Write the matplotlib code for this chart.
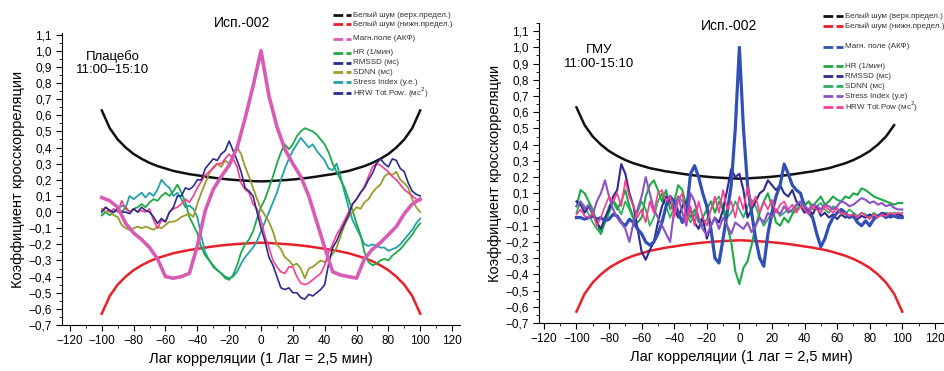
import matplotlib.pyplot as plt
import numpy as np
from matplotlib.lines import Line2D
from matplotlib.ticker import MultipleLocator, FuncFormatter

plt.rcParams['font.family'] = ['Liberation Sans', 'DejaVu Sans']

# лаги
lags5 = np.arange(-100, 101, 5)
lags = np.arange(-100, 100.1, 2.5)

# границы белого шума
noise_hi = [0.63, 0.52, 0.45, 0.40, 0.36, 0.33, 0.305, 0.285, 0.27, 0.255, 0.245,
            0.235, 0.228, 0.22, 0.213, 0.207, 0.202, 0.198, 0.195, 0.192, 0.19,
            0.192, 0.195, 0.198, 0.202, 0.207, 0.213, 0.22, 0.228, 0.235, 0.245,
            0.255, 0.27, 0.285, 0.305, 0.33, 0.36, 0.40, 0.45, 0.52, 0.63]
noise_lo = [-v for v in noise_hi]

# ---- Плацебо ----
magn_L = [0.09, 0.07, 0.03, -0.07, -0.13, -0.17, -0.22, -0.29, -0.40, -0.41, -0.40,
          -0.38, -0.21, 0.01, 0.14, 0.22, 0.29, 0.40, 0.58, 0.78, 1.0, 0.72, 0.53,
          0.39, 0.30, 0.22, 0.10, -0.06, -0.22, -0.37, -0.39, -0.40, -0.41, -0.29,
          -0.23, -0.19, -0.14, -0.09, -0.01, 0.05, 0.08]
hr_L = [-0.02, 0.0, -0.02, 0.0, 0.02, 0.0, 0.03, 0.0, 0.02, 0.03, 0.05, 0.03, 0.06,
        0.08, 0.07, 0.10, 0.12, 0.10, 0.13, 0.17, 0.12, 0.06, -0.03, -0.08, -0.13,
        -0.22, -0.27, -0.30, -0.34, -0.36, -0.38, -0.41, -0.42, -0.39, -0.33, -0.25,
        -0.20, -0.17, -0.12, -0.04, 0.03, 0.08, 0.15, 0.22, 0.30, 0.37, 0.42, 0.39,
        0.42, 0.47, 0.50, 0.52, 0.51, 0.50, 0.48, 0.45, 0.42, 0.37, 0.30, 0.25, 0.20,
        0.15, 0.08, 0.01, -0.07, -0.14, -0.25, -0.31, -0.33, -0.32, -0.30, -0.29,
        -0.30, -0.27, -0.25, -0.23, -0.20, -0.17, -0.14, -0.10, -0.07]
stress_L = [-0.02, 0.0, 0.01, 0.0, 0.02, 0.04, 0.03, 0.10, 0.08, 0.10, 0.12, 0.09,
            0.12, 0.10, 0.14, 0.20, 0.17, 0.15, 0.10, 0.12, 0.08, 0.03, 0.04, 0.02,
            -0.03, -0.15, -0.25, -0.30, -0.33, -0.36, -0.38, -0.40, -0.41, -0.40,
            -0.37, -0.32, -0.28, -0.25, -0.22, -0.18, -0.12, -0.06, 0.0, 0.06, 0.12,
            0.20, 0.27, 0.33, 0.38, 0.42, 0.46, 0.43, 0.40, 0.42, 0.38, 0.35, 0.32,
            0.27, 0.26, 0.30, 0.22, 0.12, 0.03, -0.05, -0.10, -0.15, -0.20, -0.21,
            -0.20, -0.21, -0.22, -0.22, -0.24, -0.23, -0.22, -0.20, -0.17, -0.14,
            -0.11, -0.07, -0.04]
rmssd_L = [0.0, 0.03, 0.01, 0.0, 0.02, 0.0, 0.0, -0.01, 0.02, 0.0, 0.03, 0.01, 0.0,
           -0.03, -0.07, -0.04, -0.06, 0.0, 0.03, 0.10, 0.10, 0.15, 0.14, 0.16, 0.20,
           0.20, 0.27, 0.30, 0.33, 0.32, 0.36, 0.38, 0.44, 0.38, 0.32, 0.25, 0.15,
           0.13, 0.10, 0.0, -0.10, -0.18, -0.28, -0.33, -0.40, -0.47, -0.48, -0.47,
           -0.50, -0.50, -0.53, -0.54, -0.51, -0.52, -0.50, -0.48, -0.45, -0.32,
           -0.22, -0.18, -0.12, -0.07, -0.02, 0.05, 0.08, 0.12, 0.15, 0.20, 0.24,
           0.30, 0.33, 0.30, 0.28, 0.33, 0.32, 0.27, 0.25, 0.18, 0.13, 0.11, 0.10]
hrw_L = [0.01, 0.03, 0.0, 0.02, 0.0, 0.07, 0.02, 0.0, 0.02, 0.0, 0.01, 0.0, 0.02,
         -0.05, -0.10, -0.05, -0.06, 0.0, 0.02, 0.03, 0.05, 0.08, 0.06, 0.10, 0.15,
         0.19, 0.23, 0.25, 0.27, 0.30, 0.30, 0.33, 0.36, 0.33, 0.28, 0.18, 0.14, 0.12,
         0.05, 0.02, -0.05, -0.15, -0.22, -0.30, -0.34, -0.37, -0.38, -0.34, -0.34,
         -0.40, -0.44, -0.45, -0.44, -0.42, -0.40, -0.38, -0.33, -0.25, -0.20, -0.14,
         -0.10, -0.05, 0.0, 0.05, 0.08, 0.12, 0.16, 0.22, 0.28, 0.30, 0.29, 0.27,
         0.25, 0.22, 0.20, 0.17, 0.14, 0.12, 0.10, 0.08, 0.07]
sdnn_L = [0.02, 0.0, 0.01, -0.02, -0.03, -0.08, -0.10, -0.11, -0.10, -0.09, -0.10,
          -0.09, -0.10, -0.11, -0.09, -0.10, -0.08, -0.06, -0.06, -0.05, -0.03, -0.02,
          -0.01, -0.03, 0.05, 0.12, 0.18, 0.24, 0.28, 0.30, 0.28, 0.32, 0.30, 0.35,
          0.40, 0.36, 0.28, 0.22, 0.15, 0.08, 0.02, -0.02, -0.06, -0.12, -0.20, -0.23,
          -0.28, -0.30, -0.33, -0.32, -0.35, -0.41, -0.35, -0.34, -0.32, -0.30, -0.31,
          -0.29, -0.26, -0.22, -0.15, -0.08, -0.03, 0.0, 0.03, 0.02, 0.06, 0.08, 0.12,
          0.15, 0.17, 0.22, 0.24, 0.23, 0.25, 0.20, 0.18, 0.15, 0.08, 0.03, 0.0]

# ---- ГМУ ----
magn_R = [-0.05, -0.05, -0.06, -0.05, -0.04, -0.06, -0.05, -0.07, -0.06, -0.03,
          -0.04, -0.08, -0.10, -0.06, -0.08, -0.12, -0.15, -0.20, -0.22, -0.20,
          -0.15, -0.08, 0.02, 0.08, 0.05, -0.02, -0.08, -0.02, 0.22, 0.27, 0.20,
          0.10, 0.02, -0.12, -0.30, -0.33, -0.18, -0.02, 0.15, 0.50, 1.0, 0.50, 0.15,
          -0.02, -0.18, -0.30, -0.35, -0.15, -0.02, 0.08, 0.15, 0.28, 0.22, 0.15,
          0.12, 0.10, 0.02, -0.02, -0.05, -0.15, -0.23, -0.18, -0.10, -0.05, -0.02,
          0.0, -0.02, -0.05, -0.04, -0.08, -0.10, -0.07, -0.10, -0.06, -0.04, -0.03,
          -0.05, -0.03, -0.04, -0.05, -0.05]
hr_R = [0.02, 0.12, 0.10, 0.05, 0.0, -0.08, -0.15, -0.08, -0.02, 0.05, 0.0, 0.05,
        0.12, 0.02, -0.05, -0.08, -0.05, 0.08, 0.15, 0.18, 0.12, 0.05, 0.12, 0.0,
        0.05, 0.15, 0.12, 0.02, -0.05, 0.0, -0.08, -0.05, 0.0, 0.05, -0.02, 0.05,
        0.0, -0.10, -0.20, -0.38, -0.46, -0.36, -0.32, -0.22, -0.10, -0.02, 0.05,
        0.10, 0.02, -0.08, -0.10, -0.05, -0.08, -0.03, 0.0, 0.02, 0.03, 0.05, 0.02,
        0.05, 0.08, 0.03, 0.05, 0.08, 0.06, 0.05, 0.08, 0.07, 0.10, 0.09, 0.13, 0.12,
        0.10, 0.08, 0.07, 0.06, 0.05, 0.04, 0.03, 0.04, 0.04]
rmssd_R = [0.05, 0.03, -0.02, 0.02, -0.03, -0.08, -0.12, -0.05, 0.0, 0.08, 0.12,
           0.28, 0.22, 0.10, 0.02, -0.12, -0.26, -0.31, -0.25, -0.20, -0.08, 0.02,
           0.08, 0.05, 0.0, -0.05, 0.02, 0.05, 0.0, -0.08, -0.12, -0.05, -0.18, -0.10,
           -0.05, -0.08, 0.0, 0.12, 0.25, 0.20, 0.22, 0.12, -0.05, 0.0, 0.05, 0.10,
           0.12, 0.18, 0.15, 0.12, 0.15, 0.10, 0.08, 0.12, 0.05, 0.02, -0.02, 0.0,
           -0.03, 0.02, -0.04, -0.02, -0.05, -0.03, -0.06, -0.03, -0.05, -0.04, -0.03,
           -0.06, -0.04, -0.05, -0.03, -0.05, -0.04, -0.02, -0.03, -0.05, -0.04, -0.03,
           -0.04]
sdnn_R = [-0.02, 0.05, 0.02, -0.03, -0.08, -0.12, -0.15, -0.06, 0.02, 0.06, 0.02,
          -0.03, 0.05, 0.0, -0.06, -0.02, 0.05, 0.0, -0.10, -0.05, 0.05, 0.10, 0.02,
          -0.05, 0.02, 0.08, 0.05, -0.03, -0.08, -0.03, -0.06, -0.10, -0.06, 0.0, 0.05,
          0.08, 0.02, -0.05, -0.02, 0.05, 0.0, -0.05, 0.02, 0.06, 0.02, -0.05, -0.10,
          -0.06, -0.02, 0.0, -0.04, -0.02, 0.0, -0.02, 0.02, 0.04, 0.02, 0.05, 0.0,
          0.02, 0.04, 0.0, -0.02, 0.02, 0.0, -0.02, -0.03, 0.0, -0.02, -0.04, -0.02,
          -0.03, -0.05, -0.02, -0.04, -0.03, -0.02, -0.03, -0.02, -0.03, -0.02]
stress_R = [0.02, 0.05, 0.0, 0.03, -0.03, 0.05, 0.10, 0.18, 0.08, 0.0, -0.05, -0.08,
            -0.12, -0.20, -0.08, 0.0, 0.08, 0.20, 0.10, 0.0, -0.05, -0.10, -0.15,
            -0.20, 0.0, 0.08, -0.02, -0.10, 0.10, 0.05, -0.05, -0.12, -0.16, -0.10,
            -0.05, -0.12, -0.05, -0.10, -0.15, -0.08, -0.10, -0.12, -0.08, -0.14, -0.10,
            -0.05, -0.08, -0.02, -0.05, 0.0, -0.03, 0.02, -0.02, 0.0, 0.03, 0.05, 0.02,
            0.0, 0.03, 0.02, 0.0, 0.03, 0.02, 0.0, 0.02, 0.05, 0.04, 0.02, 0.03, 0.05,
            0.07, 0.06, 0.04, 0.05, 0.03, 0.04, 0.02, 0.03, 0.01, 0.0, 0.0]
hrw_R = [-0.03, 0.0, -0.04, -0.05, -0.02, -0.10, -0.05, 0.02, 0.08, 0.05, 0.10, 0.02,
         0.18, 0.08, 0.02, -0.05, 0.0, -0.08, 0.05, -0.02, 0.10, 0.12, 0.05, 0.08,
         -0.05, 0.06, 0.10, -0.08, 0.02, -0.10, 0.05, -0.05, -0.10, 0.0, 0.08, -0.02,
         0.12, 0.0, 0.05, -0.05, 0.08, 0.0, 0.14, 0.02, 0.08, -0.02, 0.05, 0.0, 0.06,
         -0.02, 0.03, 0.05, 0.0, 0.03, -0.02, 0.02, 0.0, -0.03, 0.02, 0.0, -0.02,
         0.02, 0.0, -0.02, 0.01, -0.03, -0.02, -0.04, -0.03, -0.05, -0.02, -0.04,
         -0.06, -0.03, -0.05, -0.03, -0.04, -0.02, -0.03, -0.02, -0.03]

W, H = 945, 371
fig = plt.figure(figsize=(W / 100, H / 100), dpi=100)


def px(x, y):
    return x / W, 1 - y / H


def style_axes(ax, xlim, ylim):
    ax.set_xlim(*xlim)
    ax.set_ylim(*ylim)
    ax.spines['top'].set_visible(False)
    ax.spines['right'].set_visible(False)
    ax.xaxis.set_major_locator(MultipleLocator(20))
    ax.xaxis.set_minor_locator(MultipleLocator(10))
    ax.yaxis.set_major_locator(MultipleLocator(0.1))
    ax.yaxis.set_minor_locator(MultipleLocator(0.05))
    ax.yaxis.set_major_formatter(FuncFormatter(lambda v, p: f'{v:.1f}'.replace('.', ',').replace('-', '\u2212')))
    ax.xaxis.set_major_formatter(FuncFormatter(lambda v, p: f'{v:.0f}'.replace('-', '\u2212')))
    ax.tick_params(which='major', direction='out', length=4, width=0.8, labelsize=8.5)
    ax.tick_params(which='minor', direction='out', length=2, width=0.6)
    ax.set_ylabel('Коэффициент кросскорреляции', fontsize=10.5, labelpad=2)


def legend(x0, x1, xt, rows):
    for y, color, label in rows:
        fig.add_artist(Line2D([x0 / W, x1 / W], [1 - y / H, 1 - y / H], color=color,
                              lw=2, ls=(0, (3.5, 1.2))))
        fig.text(xt / W, 1 - y / H, label, fontsize=5.8, va='center', ha='left', color='#333333')


c_black, c_red = '#111111', '#e8202a'
c_mag, c_green, c_teal = '#d65cb6', '#1fa848', '#22a0a8'
c_navy, c_olive, c_pink = '#2b2b8c', '#9a9a2e', '#ff3d8f'
c_blue, c_purple, c_green2 = '#3050b4', '#8c52c4', '#2fb060'

# ---- левая панель ----
axL = fig.add_axes([62 / W, 1 - 325 / H, 398 / W, 292 / H])
style_axes(axL, (-125, 125), (-0.7, 1.11))
axL.plot(lags5, noise_hi, color=c_black, lw=1.8)
axL.plot(lags5, noise_lo, color=c_red, lw=1.8)
axL.plot(lags, stress_L, color=c_teal, lw=1.3)
axL.plot(lags, hr_L, color=c_green, lw=1.3)
axL.plot(lags, sdnn_L, color=c_olive, lw=1.3)
axL.plot(lags, hrw_L, color=c_pink, lw=1.2)
axL.plot(lags, rmssd_L, color=c_navy, lw=1.2)
axL.plot(lags5, magn_L, color=c_mag, lw=2.6)
axL.set_xlabel('Лаг корреляции (1 Лаг = 2,5 мин)', fontsize=10.5, labelpad=3)
fig.text(*px(242, 23), 'Исп.-002', fontsize=10, ha='center', va='center')
fig.text(*px(113, 63), 'Плацебо\n11:00–15:10', fontsize=9.5, ha='center', va='center',
         linespacing=1.2)
legend(333, 351, 353, [
    (15, c_black, 'Белый шум (верх.предел.)'),
    (24, c_red, 'Белый шум (нижн.предел.)'),
    (39, c_mag, 'Магн.поле (АКФ)'),
    (53, c_green, 'HR (1/мин)'),
    (63, c_navy, 'RMSSD (мс)'),
    (72, c_olive, 'SDNN (мс)'),
    (82, c_teal, 'Stress Index (у.е.)'),
    (93, c_navy, 'HRW Tot.Pow. (мс$^2$)'),
])

# ---- правая панель ----
axR = fig.add_axes([539 / W, 1 - 323 / H, 404 / W, 300 / H])
style_axes(axR, (-123, 125), (-0.7, 1.15))
axR.plot(lags5[:-1], noise_hi[:-1], color=c_black, lw=1.8)
axR.plot(lags5, noise_lo, color=c_red, lw=1.8)
axR.plot(lags, sdnn_R, color=c_green2, lw=1.3)
axR.plot(lags, hr_R, color=c_green, lw=1.5)
axR.plot(lags, rmssd_R, color=c_navy, lw=1.5)
axR.plot(lags, magn_R, color=c_blue, lw=2.3)
axR.plot(lags, stress_R, color=c_purple, lw=1.5)
axR.plot(lags, hrw_R, color=c_pink, lw=1.2)
axR.set_xlabel('Лаг корреляции (1 лаг = 2,5 мин)', fontsize=10.5, labelpad=3)
fig.text(*px(729, 26), 'Исп.-002', fontsize=10, ha='center', va='center')
fig.text(*px(599, 57), 'ГМУ\n11:00-15:10', fontsize=9.5, ha='center', va='center',
         linespacing=1.2)
legend(823, 843, 845, [
    (16, c_black, 'Белый шум (верх.предел.)'),
    (26, c_red, 'Белый шум (нижн.предел.)'),
    (47, c_blue, 'Магн. поле (АКФ)'),
    (66, c_green, 'HR (1/мин)'),
    (76, c_navy, 'RMSSD (мс)'),
    (86, c_green2, 'SDNN (мс)'),
    (96, c_purple, 'Stress Index (у.е)'),
    (107, c_pink, 'HRW Tot.Pow (мс$^2$)'),
])

fig.savefig('out.png', dpi=100)
